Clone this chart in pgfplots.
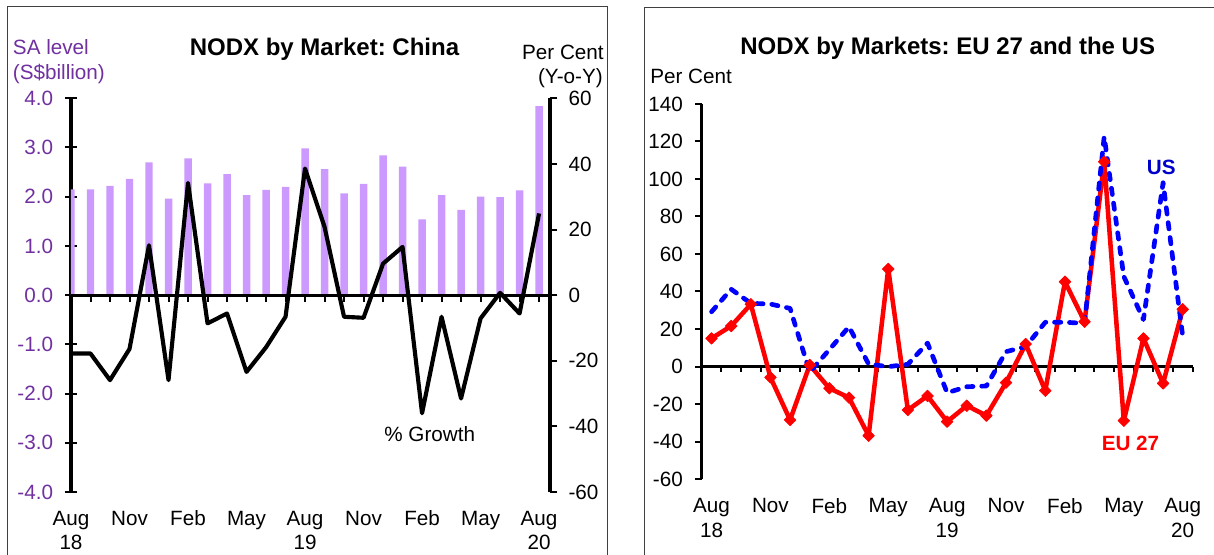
\documentclass[border=0pt]{standalone}
\usepackage{pgfplots}
\usepackage{pgfplotstable}
\pgfplotsset{compat=1.18}
\usepackage{fontspec}
\setmainfont{Liberation Sans}
\frenchspacing
\definecolor{barpurple}{RGB}{204,153,255}
\definecolor{labpurple}{RGB}{112,48,160}
\definecolor{usblue}{RGB}{0,0,255}
\definecolor{uslab}{RGB}{0,0,204}
\definecolor{eured}{RGB}{255,0,0}
\newcommand{\tfont}{\fontsize{15.5}{18.5}\selectfont}
\newcommand{\hfont}{\fontsize{18}{21}\selectfont\bfseries}
\newcommand{\lfont}{\fontsize{15.5}{18}\selectfont\bfseries}

\pgfplotstableread{
x bar growth
0 2.15 -17.8
1 2.15 -17.8
2 2.22 -25.9
3 2.36 -16.4
4 2.70 15.2
5 1.96 -25.9
6 2.78 34.2
7 2.27 -8.6
8 2.46 -5.6
9 2.03 -23.4
10 2.14 -15.9
11 2.20 -6.6
12 2.98 38.6
13 2.56 20.8
14 2.07 -6.6
15 2.26 -6.9
16 2.84 9.6
17 2.61 14.7
18 1.54 -36.0
19 2.03 -6.6
20 1.73 -31.5
21 2.00 -7.1
22 1.99 0.7
23 2.13 -5.6
24 3.84 24.9
}\china

\pgfplotstableread{
x eu us
0 15.0 29.2
1 21.6 41.2
2 33.2 33.7
3 -5.8 33.3
4 -28.5 31.0
5 0.8 -3.0
6 -11.6 9.0
7 -16.6 21.2
8 -36.9 1.3
9 52.0 -0.1
10 -23.2 1.2
11 -15.7 12.5
12 -29.4 -14.0
13 -20.9 -10.8
14 -26.2 -10.4
15 -8.6 7.9
16 12.0 10.6
17 -12.9 23.6
18 45.2 23.6
19 23.9 23.0
20 109.2 122.6
21 -28.9 48.0
22 15.0 25.0
23 -9.0 98.0
24 30.5 16.0
}\euus

\begin{document}
\begin{tikzpicture}
% ---------------- left panel: bars
\begin{axis}[
  at={(53.25pt,46.5pt)}, anchor=south west, scale only axis,
  width=359.25pt, height=295.3pt,
  xmin=0, xmax=24.56, ymin=-4, ymax=4,
  axis x line*=bottom, axis y line*=left,
  x axis line style={draw=none},
  y axis line style={line width=2.5pt},
  xtick={0,3,...,24},
  xticklabels={Aug\\18,Nov,Feb,May,Aug\\19,Nov,Feb,May,Aug\\20},
  xtick style={draw=none},
  ytick={-4,-3,...,4},
  yticklabels={-4.0,-3.0,-2.0,-1.0,0.0,1.0,2.0,3.0,4.0},
  ytick style={line width=1.5pt, black},
  tick align=center, major tick length=9pt,
  tick label style={font=\tfont},
  xticklabel style={align=center, anchor=north, inner sep=0pt, yshift=-5pt},
  yticklabel style={text=labpurple, anchor=east, inner sep=0pt, xshift=-8.75pt},
  ybar, bar width=5.6pt,
]
\addplot[fill=barpurple, draw=none] table[x=x,y=bar]{\china};
\end{axis}
% zero line with ticks
\begin{axis}[
  at={(53.25pt,194.1pt)}, anchor=south west, scale only axis,
  width=359.25pt, height=147.6pt,
  xmin=0, xmax=24.56, ymin=0, ymax=1,
  axis x line*=bottom, axis y line=none,
  x axis line style={line width=2.5pt},
  xtick={1,...,24}, xticklabels={},
  tick align=outside, major tick length=5pt,
  xtick style={line width=1.5pt, black},
]
\end{axis}
% growth line
\begin{axis}[
  at={(53.25pt,46.5pt)}, anchor=south west, scale only axis,
  width=359.25pt, height=295.3pt,
  xmin=0, xmax=24.56, ymin=-60, ymax=60,
  axis x line=none, axis y line*=right,
  y axis line style={line width=2.5pt},
  ytick={-60,-40,...,60},
  yticklabels={-60,-40,-20,0,20,40,60},
  ytick style={line width=1.5pt, black},
  tick align=outside, major tick length=5.5pt,
  tick label style={font=\tfont},
  yticklabel style={anchor=west, inner sep=0pt, xshift=8.25pt},
]
\addplot[black, line width=3.1pt, line join=round] table[x=x,y=growth]{\china};
\end{axis}
% ---------------- right panel: zero line
\begin{axis}[
  at={(526.3pt,140.6pt)}, anchor=south west, scale only axis,
  width=368.1pt, height=196.9pt,
  xmin=-0.5, xmax=24.5, ymin=0, ymax=1,
  axis x line*=bottom, axis y line=none,
  x axis line style={line width=2.5pt},
  xtick={0.5,1.5,...,24.5}, xticklabels={},
  tick align=outside, major tick length=4pt,
  xtick style={line width=1.5pt, black},
]
\end{axis}
\begin{axis}[
  at={(526.3pt,56.25pt)}, anchor=south west, scale only axis,
  width=368.1pt, height=281.25pt,
  xmin=-0.5, xmax=24.5, ymin=-60, ymax=140,
  axis x line*=bottom, axis y line*=left,
  x axis line style={draw=none}, xtick style={draw=none},
  y axis line style={line width=2.5pt},
  xtick={0,3,...,24},
  xticklabels={Aug\\18,Nov,Feb,May,Aug\\19,Nov,Feb,May,Aug\\20},
  ytick={-60,-40,...,140},
  yticklabels={-60,-40,-20,0,20,40,60,80,100,120,140},
  ytick style={line width=1.5pt, black},
  tick align=outside, major tick length=5pt,
  tick label style={font=\tfont},
  xticklabel style={align=center, anchor=north, inner sep=0pt, yshift=-9.5pt},
  yticklabel style={anchor=east, inner sep=0pt, xshift=-9pt},
]
\addplot[eured, line width=3.4pt, line join=round, mark=square*, mark size=3.1pt,
  mark options={solid, rotate=45, fill=eured, line width=0.5pt}] table[x=x,y=eu]{\euus};
\addplot[usblue, line width=3.5pt, line cap=round, line join=round,
  dash pattern=on 4.75pt off 6.5pt]
  table[x=x,y=us]{\euus};
\end{axis}
% ---------------- texts and frames
\begin{scope}[x=0.75pt,y=0.75pt]
\draw[line width=0.75pt, black!75] (7,-20) -- (7,547) -- (607,547) -- (607,-20);
\draw[line width=0.75pt, black!75] (644,-20) -- (644,546) -- (1240,546);
\node[anchor=base west, text=labpurple, font=\tfont, inner sep=0pt] at (12.7,499) {SA level};
\node[anchor=base west, text=labpurple, font=\tfont, inner sep=0pt] at (12.7,474.7) {(S\$billion)};
\node[anchor=base, font=\hfont, inner sep=0pt] at (324.5,498) {NODX by Market: China};
\node[anchor=base east, font=\tfont, inner sep=0pt] at (604,494.7) {Per Cent};
\node[anchor=base east, font=\tfont, inner sep=0pt] at (603,470.7) {(Y-o-Y)};
\node[anchor=base, font=\tfont, inner sep=0pt] at (429.7,112.3) {\% Growth};
\node[anchor=base, font=\hfont, inner sep=0pt] at (947.7,499) {NODX by Markets: EU 27 and the US};
\node[anchor=base west, font=\tfont, inner sep=0pt] at (650,470) {Per Cent};
\node[anchor=base, font=\lfont, text=uslab, inner sep=0pt] at (1161.3,379) {US};
\node[anchor=base, font=\lfont, text=eured, inner sep=0pt] at (1130.5,104) {EU 27};
\end{scope}
\pgfresetboundingbox
\path[use as bounding box] (0,0) rectangle (910.5pt,415.5pt);
\end{tikzpicture}
\end{document}
